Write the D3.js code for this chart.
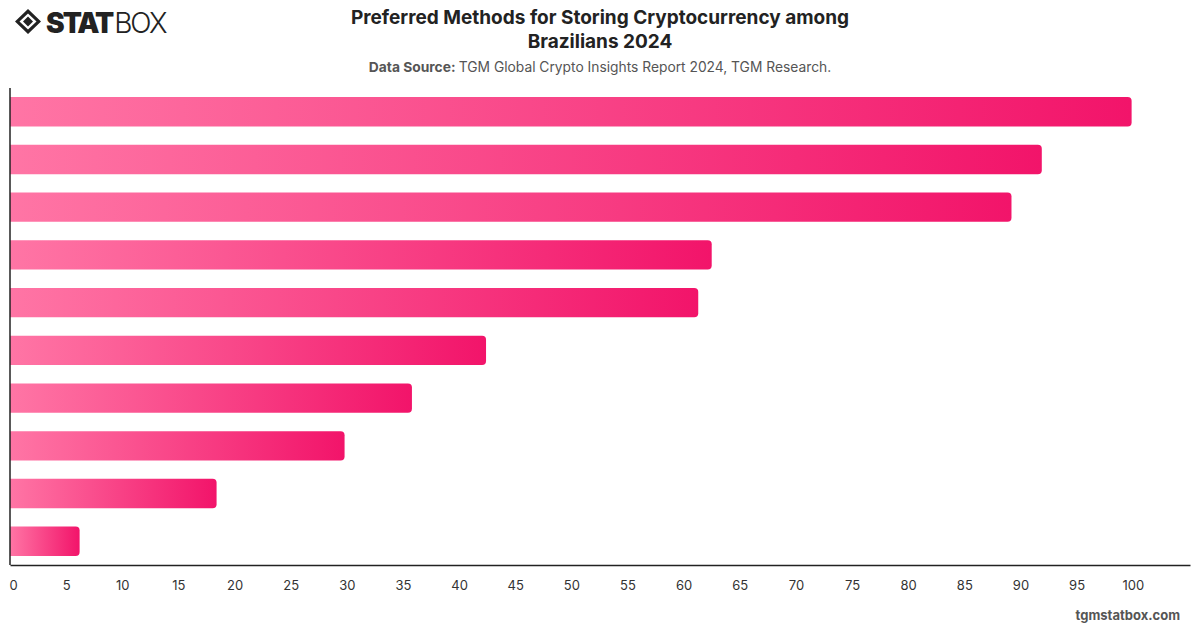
<!DOCTYPE html>
<html>
<head>
<meta charset="utf-8">
<script src="https://cdn.jsdelivr.net/npm/d3@7"></script>
<style>
  body { margin: 0; background: #fff; }
  svg { display: block; font-family: Inter, "Noto Sans", sans-serif; }
</style>
</head>
<body>
<div id="chart"></div>
<script>
/* Preferred methods for storing crypto - Brazil 2024 (labels are hidden in the original) */

// categories are not shown on the chart, so just index them
const categories = ["m1", "m2", "m3", "m4", "m5", "m6", "m7", "m8", "m9", "m10"];
const values = [99.9, 91.9, 89.2, 62.5, 61.3, 42.4, 35.8, 29.8, 18.4, 6.2];
const tickValues = [0, 5, 10, 15, 20, 25, 30, 35, 40, 45, 50, 55, 60, 65, 70, 75, 80, 85, 90, 95, 100];

const data = categories.map((c, i) => ({ cat: c, val: values[i] }));

const width = 1200,
      height = 628,
      margin = { top: 88, right: 10, bottom: 63, left: 10 };

const svg = d3.select("#chart")
    .append("svg")
    .attr("width", width)
    .attr("height", height)
    .attr("viewBox", [0, 0, width, height]);

/* gradient, one per bar (objectBoundingBox) */
const defs = svg.append("defs");
const grad = defs.append("linearGradient")
    .attr("id", "barGrad")
    .attr("x1", "0%").attr("x2", "100%")
    .attr("y1", "0%").attr("y2", "0%");
grad.append("stop").attr("offset", "0%").attr("stop-color", "#ff75a5");
grad.append("stop").attr("offset", "100%").attr("stop-color", "#f2146a");

/* Logo */
const logo = svg.append("g").attr("transform", "translate(15,9)");
logo.append("path")
    .attr("d", "M13,0 L26,12.5 L13,25 L0,12.5 Z M13,4.5 L4.5,12.5 L13,20.5 L21.5,12.5 Z")
    .attr("fill", "#222")
    .attr("fill-rule", "evenodd");
logo.append("path")
    .attr("d", "M13,7.5 L18,12.5 L13,17.5 L8,12.5 Z")
    .attr("fill", "#222");
const logoText = logo.append("text")
    .attr("x", 31)
    .attr("y", 23.5)
    .style("font-size", "28px")
    .style("fill", "#222");
logoText.append("tspan").style("font-weight", 900).style("letter-spacing", "-2px").text("STAT");
logoText.append("tspan").attr("dx", 2).style("font-weight", 300).style("letter-spacing", "-2px").text("BOX");

/* Title + source */
svg.append("text")
    .attr("x", 600).attr("y", 24)
    .attr("text-anchor", "middle")
    .style("font-size", "19px").style("font-weight", 700).style("fill", "#222")
    .text("Preferred Methods for Storing Cryptocurrency among");
svg.append("text")
    .attr("x", 600).attr("y", 48)
    .attr("text-anchor", "middle")
    .style("font-size", "19px").style("font-weight", 700).style("fill", "#222")
    .text("Brazilians 2024");

const src = svg.append("text")
    .attr("x", 600).attr("y", 72)
    .attr("text-anchor", "middle")
    .style("font-size", "13.8px").style("fill", "#555");
src.append("tspan").style("font-weight", 700).text("Data Source: ");
src.append("tspan").text("TGM Global Crypto Insights Report 2024, TGM Research.");

/* Scales */
const x = d3.scaleLinear()
    .domain([0, 105.1])
    .range([margin.left, width - margin.right]);

const y = d3.scaleBand()
    .domain(categories)
    .range([margin.top, height - margin.bottom])
    .paddingInner(0.385)
    .paddingOuter(0.19);

/* Bars - rounded right end only */
function barPath(d) {
    const x0 = x(0), x1 = x(d.val), y0 = y(d.cat), h = y.bandwidth();
    const r = Math.min(4, (x1 - x0) / 2);
    return `M${x0},${y0} H${x1 - r} Q${x1},${y0} ${x1},${y0 + r} V${y0 + h - r} Q${x1},${y0 + h} ${x1 - r},${y0 + h} H${x0} Z`;
}

svg.selectAll(".bar")
    .data(data)
    .join("path")
    .attr("class", "bar")
    .attr("d", barPath)
    .attr("fill", "url(#barGrad)");

/* Axes */
const xAxis = svg.append("g")
    .attr("transform", `translate(0,${height - margin.bottom})`)
    .call(d3.axisBottom(x).tickValues(tickValues).tickSize(0).tickPadding(16));
xAxis.select(".domain").attr("stroke", "#222").attr("stroke-width", 1.5);
xAxis.selectAll("text")
    .style("font-size", "13px")
    .style("fill", "#333")
    .style("font-family", "Inter, 'Noto Sans', sans-serif");
xAxis.selectAll(".tick").filter(d => d === 0).select("text").attr("dx", 3);

svg.append("line")
    .attr("x1", x(0)).attr("x2", x(0))
    .attr("y1", margin.top).attr("y2", height - margin.bottom)
    .attr("stroke", "#222").attr("stroke-width", 1.5);

/* footer */
svg.append("text")
    .attr("x", 1180).attr("y", 620)
    .attr("text-anchor", "end")
    .style("font-size", "13px").style("font-weight", 700).style("fill", "#555")
    .text("tgmstatbox.com");
</script>
</body>
</html>
